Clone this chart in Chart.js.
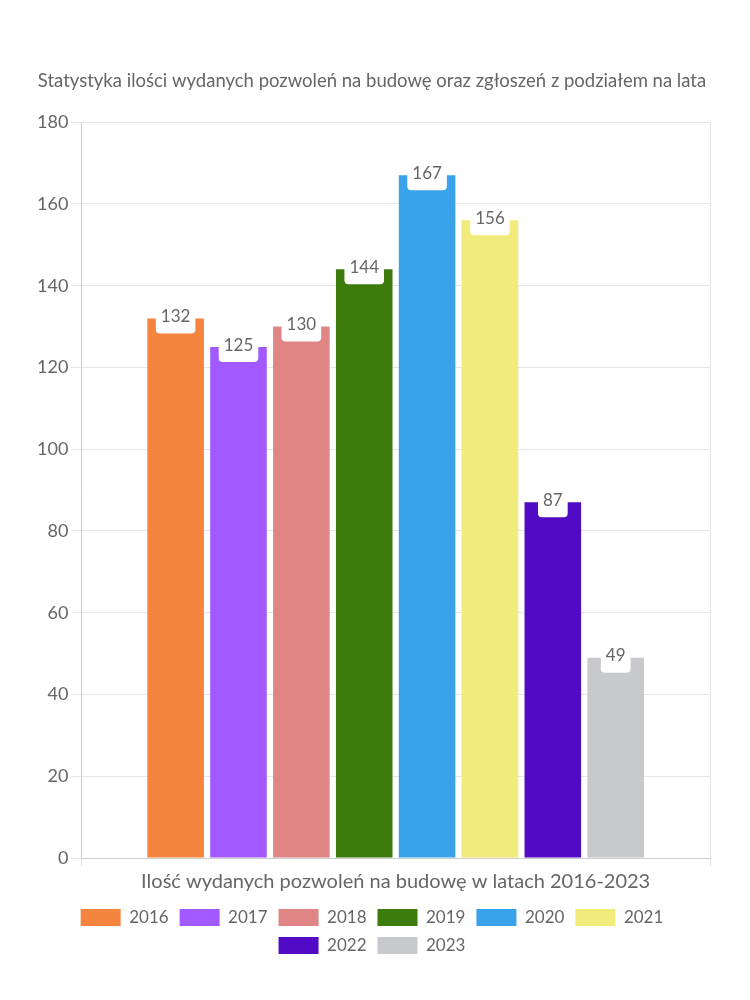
<!DOCTYPE html>
<html>
<head>
<meta charset="utf-8">
<script src="https://cdn.jsdelivr.net/npm/chart.js@4"></script>
<style>
    body { margin: 0; background: #fff; }
    #wrap { width: 750px; height: 1000px; }
</style>
</head>
<body>
<div id="wrap"><canvas id="permitsChart"></canvas></div>
<script>
const categories = ['Ilość wydanych pozwoleń na budowę w latach 2016-2023'];
const years = ['2016', '2017', '2018', '2019', '2020', '2021', '2022', '2023'];
const permitCounts = [132, 125, 130, 144, 167, 156, 87, 49];
const barColors = ['#F5843F', '#A259FF', '#E08585', '#3D7B0C', '#38A3EA', '#F0EB7B', '#510BC4', '#C8C9CD'];
const yTicks = [0, 20, 40, 60, 80, 100, 120, 140, 160, 180];

const FONT = 'Lato, "Noto Sans", sans-serif';
const TEXT = '#666';

// white label boxes centred on bar tops
const valueLabels = {
    id: 'valueLabels',
    afterDatasetsDraw(chart) {
        const ctx = chart.ctx;
        ctx.save();
        ctx.font = `17px ${FONT}`;
        ctx.textAlign = 'center';
        ctx.textBaseline = 'middle';
        chart.data.datasets.forEach((ds, i) => {
            const meta = chart.getDatasetMeta(i);
            if (meta.hidden) return;
            meta.data.forEach((bar, j) => {
                const text = String(ds.data[j]);
                const w = ctx.measureText(text).width + 10;
                const h = 30;
                ctx.fillStyle = '#fff';
                ctx.beginPath();
                ctx.roundRect(bar.x - w / 2, bar.y - h / 2, w, h, 4);
                ctx.fill();
                ctx.fillStyle = TEXT;
                ctx.fillText(text, bar.x, bar.y - 2);
            });
        });
        ctx.restore();
    }
};

new Chart(document.getElementById('permitsChart'), {
    type: 'bar',
    data: {
        labels: categories,
        datasets: years.map((y, i) => ({
            label: y,
            data: [permitCounts[i]],
            backgroundColor: barColors[i],
            borderColor: barColors[i],
            categoryPercentage: 0.8,
            barPercentage: 0.9
        }))
    },
    options: {
        responsive: true,
        maintainAspectRatio: false,
        animation: false,
        layout: { padding: { top: 60, right: 40, left: 34, bottom: 36 } },
        scales: {
            x: {
                ticks: { color: TEXT, font: { family: FONT, size: 20 }, padding: 4 },
                grid: { color: '#e6e6e6', offset: true },
                border: { color: '#ccc' }
            },
            y: {
                min: 0,
                max: 180,
                afterBuildTicks: axis => { axis.ticks = yTicks.map(v => ({ value: v })); },
                ticks: { color: TEXT, font: { family: FONT, size: 18 }, padding: 3 },
                grid: { color: '#e6e6e6', tickLength: 10 },
                border: { color: '#ccc' }
            }
        },
        plugins: {
            title: {
                display: true,
                text: 'Statystyka ilości wydanych pozwoleń na budowę oraz zgłoszeń z podziałem na lata',
                color: TEXT,
                font: { family: FONT, size: 18.5, weight: 'normal' },
                padding: { top: 10, bottom: 30 }
            },
            legend: {
                position: 'bottom',
                labels: {
                    color: TEXT,
                    boxWidth: 40,
                    boxHeight: 17,
                    padding: 11,
                    font: { family: FONT, size: 17 }
                }
            },
            tooltip: { enabled: false }
        }
    },
    plugins: [valueLabels]
});
</script>
</body>
</html>
